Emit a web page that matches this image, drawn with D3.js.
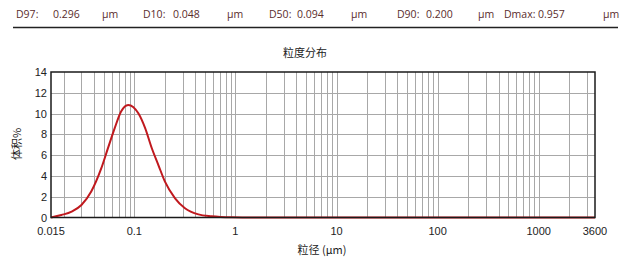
<!DOCTYPE html>
<html>
<head>
<meta charset="utf-8">
<script src="https://cdn.jsdelivr.net/npm/d3@7"></script>
<style>
  body { margin: 0; background: #fff; }
  text { font-family: "Liberation Sans", Arial, sans-serif; }
  text.hdr { font-family: "Open Sans", "Noto Sans", sans-serif; font-size: 10.5px; fill: #5a2c2c; }
</style>
</head>
<body>
<script>
// Read the width and height of the page.
const width = 625;
const height = 263;

// header values
const statNames = ['D97', 'D10', 'D50', 'D90', 'Dmax'];
const statValues = ['0.296', '0.048', '0.094', '0.200', '0.957'];
const statUnit = 'μm';

// distribution curve (size in μm, volume %)
const sizes = [0.015, 0.019, 0.024, 0.030, 0.0375, 0.047, 0.055, 0.064, 0.074, 0.087,
               0.11, 0.128, 0.149, 0.173, 0.201, 0.253, 0.317, 0.43, 0.58, 0.92, 1.5, 3600];
const volumes = [0, 0.24, 0.56, 1.2, 2.5, 4.7, 6.7, 8.6, 10.2, 10.83,
                 10.0, 8.6, 6.66, 5.05, 3.45, 1.85, 0.89, 0.3, 0.12, 0.02, 0, 0];

// axis ticks
const xTicks = [0.015, 0.1, 1, 10, 100, 1000, 3600];
const yTicks = [0, 2, 4, 6, 8, 10, 12, 14];

const svg = d3.select('body').append('svg').attr('width', width).attr('height', height);

// header row
const labelX = [16, 143, 269, 397, 504];
const valueX = [53, 173, 297, 426, 538];
const unitX = [102, 227, 351, 478, 603];
const header = svg.append('g');

header.selectAll('.lab')
.data(statNames)
.join('text')
    .attr('class', 'hdr lab')
    .attr('x', (d, i) => labelX[i])
    .attr('y', 18)
    .text((d) => d + ':');

header.selectAll('.val')
.data(statValues)
.join('text')
    .attr('class', 'hdr val')
    .attr('x', (d, i) => valueX[i])
    .attr('y', 18)
    .text((d) => d);

header.selectAll('.unit')
.data(statNames)
.join('text')
    .attr('class', 'hdr unit')
    .attr('x', (d, i) => unitX[i])
    .attr('y', 18)
    .text(statUnit);

svg.append('line')
    .attr('x1', 13).attr('x2', 618)
    .attr('y1', 27.5).attr('y2', 27.5)
    .attr('stroke', '#222')
    .attr('stroke-width', 1.5);

// scales
const plotLeft = 51, plotRight = 595, plotTop = 72, plotBottom = 217.5;
const x = d3.scaleLog().domain([0.015, 3600]).range([plotLeft, plotRight]);
const y = d3.scaleLinear().domain([0, 14]).range([plotBottom, plotTop]);

// grid lines
const minorX = [];
for (let e = -2; e <= 3; e++) {
    for (let m = 1; m <= 9; m++) {
        const v = m * Math.pow(10, e);
        if (v > 0.0151 && v < 3599) minorX.push(v);
    }
}

const grid = svg.append('g').attr('stroke', '#a8a8a8').attr('stroke-width', 1);

grid.selectAll('.vx')
.data(minorX)
.join('line')
    .attr('x1', (d) => Math.round(x(d)) + 0.5)
    .attr('x2', (d) => Math.round(x(d)) + 0.5)
    .attr('y1', plotTop)
    .attr('y2', plotBottom);

grid.selectAll('.hy')
.data(yTicks.slice(1, -1))
.join('line')
    .attr('x1', plotLeft)
    .attr('x2', plotRight)
    .attr('y1', (d) => Math.round(y(d)) + 0.5)
    .attr('y2', (d) => Math.round(y(d)) + 0.5);

// curve
const line = d3.line()
    .x((d, i) => x(sizes[i]))
    .y((d) => y(d))
    .curve(d3.curveMonotoneX);

svg.append('path')
    .datum(volumes)
    .attr('d', line)
    .attr('fill', 'none')
    .attr('stroke', '#c0191e')
    .attr('stroke-width', 2);

// frame
svg.append('rect')
    .attr('x', plotLeft)
    .attr('y', plotTop)
    .attr('width', plotRight - plotLeft)
    .attr('height', plotBottom - plotTop)
    .attr('fill', 'none')
    .attr('stroke', '#1a1a1a')
    .attr('stroke-width', 1.5);

// tick labels
svg.append('g')
.selectAll('text')
.data(xTicks)
.join('text')
    .attr('x', (d) => x(d))
    .attr('y', 235)
    .attr('text-anchor', 'middle')
    .attr('font-size', 11)
    .attr('fill', '#222')
    .text((d) => d);

svg.append('g')
.selectAll('text')
.data(yTicks)
.join('text')
    .attr('x', 47)
    .attr('y', (d) => y(d) + 4)
    .attr('text-anchor', 'end')
    .attr('font-size', 11)
    .attr('fill', '#222')
    .text((d) => d);

// titles
svg.append('text')
    .attr('x', 305)
    .attr('y', 57)
    .attr('text-anchor', 'middle')
    .attr('font-size', 11)
    .style('font-family', '"Noto Sans CJK SC", sans-serif')
    .attr('fill', '#222')
    .text('粒度分布');

svg.append('text')
    .attr('x', 322)
    .attr('y', 254)
    .attr('text-anchor', 'middle')
    .attr('font-size', 11)
    .style('font-family', '"Noto Sans CJK SC", sans-serif')
    .attr('fill', '#222')
    .text('粒径 (μm)');

svg.append('text')
    .attr('transform', 'translate(21,144) rotate(-90)')
    .attr('text-anchor', 'middle')
    .attr('font-size', 11)
    .style('font-family', '"Noto Sans CJK SC", sans-serif')
    .attr('fill', '#222')
    .text('体积%');
</script>
</body>
</html>
